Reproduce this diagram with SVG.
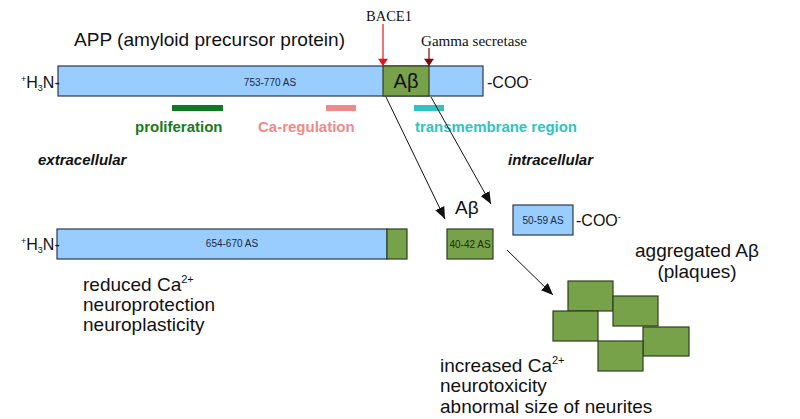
<svg xmlns="http://www.w3.org/2000/svg" width="800" height="419" viewBox="0 0 800 419">
<defs>
<style>
text{font-family:"Liberation Sans",Arial,sans-serif;fill:#111}
.serif{font-family:"Liberation Serif","Times New Roman",serif}
.big{font-size:19px}
.small{font-size:10px;fill:#1a2a44}
.lab{font-size:15px;font-weight:bold}
.bi{font-size:15px;font-weight:bold;font-style:italic}
.blue{fill:#99ccff;stroke:#2a3a4a;stroke-width:1.2}
.green{fill:#77a24a;stroke:#2f3f1f;stroke-width:1.2}
.conn{stroke:#111;stroke-width:1;fill:none}
</style>
<marker id="ab" viewBox="0 0 12 10" refX="12" refY="5" markerWidth="12" markerHeight="10" markerUnits="userSpaceOnUse" orient="auto"><path d="M0,0 L12,5 L0,10 z" fill="#111"/></marker>
<marker id="ar" viewBox="0 0 10 14" refX="10" refY="7" markerWidth="14" markerHeight="10" markerUnits="userSpaceOnUse" orient="auto"><path d="M0,0 L10,7 L0,14 z" fill="#e8141a"/></marker>
<marker id="adr" viewBox="0 0 10 14" refX="10" refY="7" markerWidth="14" markerHeight="10" markerUnits="userSpaceOnUse" orient="auto"><path d="M0,0 L10,7 L0,14 z" fill="#7a0a0a"/></marker>
</defs>
<rect width="800" height="419" fill="#fff"/>

<text class="big" x="74" y="46" textLength="271" lengthAdjust="spacingAndGlyphs">APP (amyloid precursor protein)</text>

<g id="app">
<rect class="blue" x="58" y="66" width="425" height="30"/>
<rect class="green" x="383" y="66" width="46" height="30"/>
<text class="small" x="270" y="86" text-anchor="middle">753-770 AS</text>
<text x="406" y="88" font-size="20" text-anchor="middle">Aβ</text>
<text x="21" y="88" font-size="16"><tspan font-size="9" dy="-6">+</tspan><tspan dy="6">H</tspan><tspan font-size="9" dy="3">3</tspan><tspan dy="-3">N-</tspan></text>
<text x="487" y="88" font-size="16">-COO<tspan font-size="9" dy="-6">-</tspan></text>
</g>

<g id="bace1">
<text class="serif" x="366" y="21" font-size="14.5">BACE1</text>
</g>
<g id="gamma">
<text class="serif" x="421" y="46" font-size="14.5" textLength="106" lengthAdjust="spacingAndGlyphs">Gamma secretase</text>
</g>

<g id="regions">
<rect x="172" y="105" width="51" height="6" fill="#0f7a1f"/>
<rect x="326" y="105" width="30" height="6" fill="#f08a8a"/>
<rect x="414" y="105" width="30" height="6" fill="#2ec4c4"/>
<text class="lab" x="135" y="132" fill="#1a7a22" style="fill:#1a7a22">proliferation</text>
<text class="lab" x="258" y="132" style="fill:#f08a8a">Ca-regulation</text>
<text class="lab" x="415" y="132" style="fill:#2ec4c4" textLength="162" lengthAdjust="spacingAndGlyphs">transmembrane region</text>
</g>

<text class="bi" x="38" y="165">extracellular</text>
<text class="bi" x="508" y="165">intracellular</text>

<g id="sapp">
<rect class="blue" x="57" y="229" width="330" height="30"/>
<rect class="green" x="387" y="229" width="20" height="30"/>
<text class="small" x="232" y="247" text-anchor="middle">654-670 AS</text>
<text x="21" y="250" font-size="16"><tspan font-size="9" dy="-6">+</tspan><tspan dy="6">H</tspan><tspan font-size="9" dy="3">3</tspan><tspan dy="-3">N-</tspan></text>
</g>

<g id="abeta">
<text class="big" x="455" y="214">Aβ</text>
<rect class="green" x="447" y="229" width="46" height="30"/>
<text class="small" x="470" y="248" text-anchor="middle" style="fill:#1f2a10">40-42 AS</text>
</g>

<g id="aicd">
<rect class="blue" x="513" y="205" width="60" height="30"/>
<text class="small" x="543" y="224" text-anchor="middle">50-59 AS</text>
<text x="576" y="226" font-size="16">-COO<tspan font-size="9" dy="-6">-</tspan></text>
</g>

<g id="plaques">
<rect class="green" x="568" y="281" width="45" height="30"/>
<rect class="green" x="613" y="296" width="45" height="30"/>
<rect class="green" x="553" y="311" width="45" height="30"/>
<rect class="green" x="643" y="327" width="46" height="29"/>
<rect class="green" x="598" y="341" width="45" height="30"/>
<text class="big" x="697" y="257" text-anchor="middle">aggregated Aβ</text>
<text class="big" x="697" y="278" text-anchor="middle">(plaques)</text>
</g>

<g id="effects-low">
<text class="big" x="83" y="291">reduced Ca<tspan font-size="11" dy="-8">2+</tspan></text>
<text class="big" x="83" y="311">neuroprotection</text>
<text class="big" x="83" y="331">neuroplasticity</text>
</g>

<g id="effects-high">
<text class="big" x="440" y="372">increased Ca<tspan font-size="11" dy="-8">2+</tspan></text>
<text class="big" x="440" y="392">neurotoxicity</text>
<text class="big" x="440" y="413">abnormal size of neurites</text>
</g>

<g id="connectors">
<line x1="383" y1="24" x2="383" y2="66" stroke="#e8141a" stroke-width="1.2" marker-end="url(#ar)"/>
<line x1="429" y1="48" x2="429" y2="66" stroke="#7a0a0a" stroke-width="1.2" marker-end="url(#adr)"/>
<line class="conn" x1="386" y1="97" x2="445" y2="219" marker-end="url(#ab)"/>
<line class="conn" x1="431" y1="97" x2="491" y2="204" marker-end="url(#ab)"/>
<line class="conn" x1="507" y1="250" x2="553" y2="295" marker-end="url(#ab)"/>
</g>
</svg>
